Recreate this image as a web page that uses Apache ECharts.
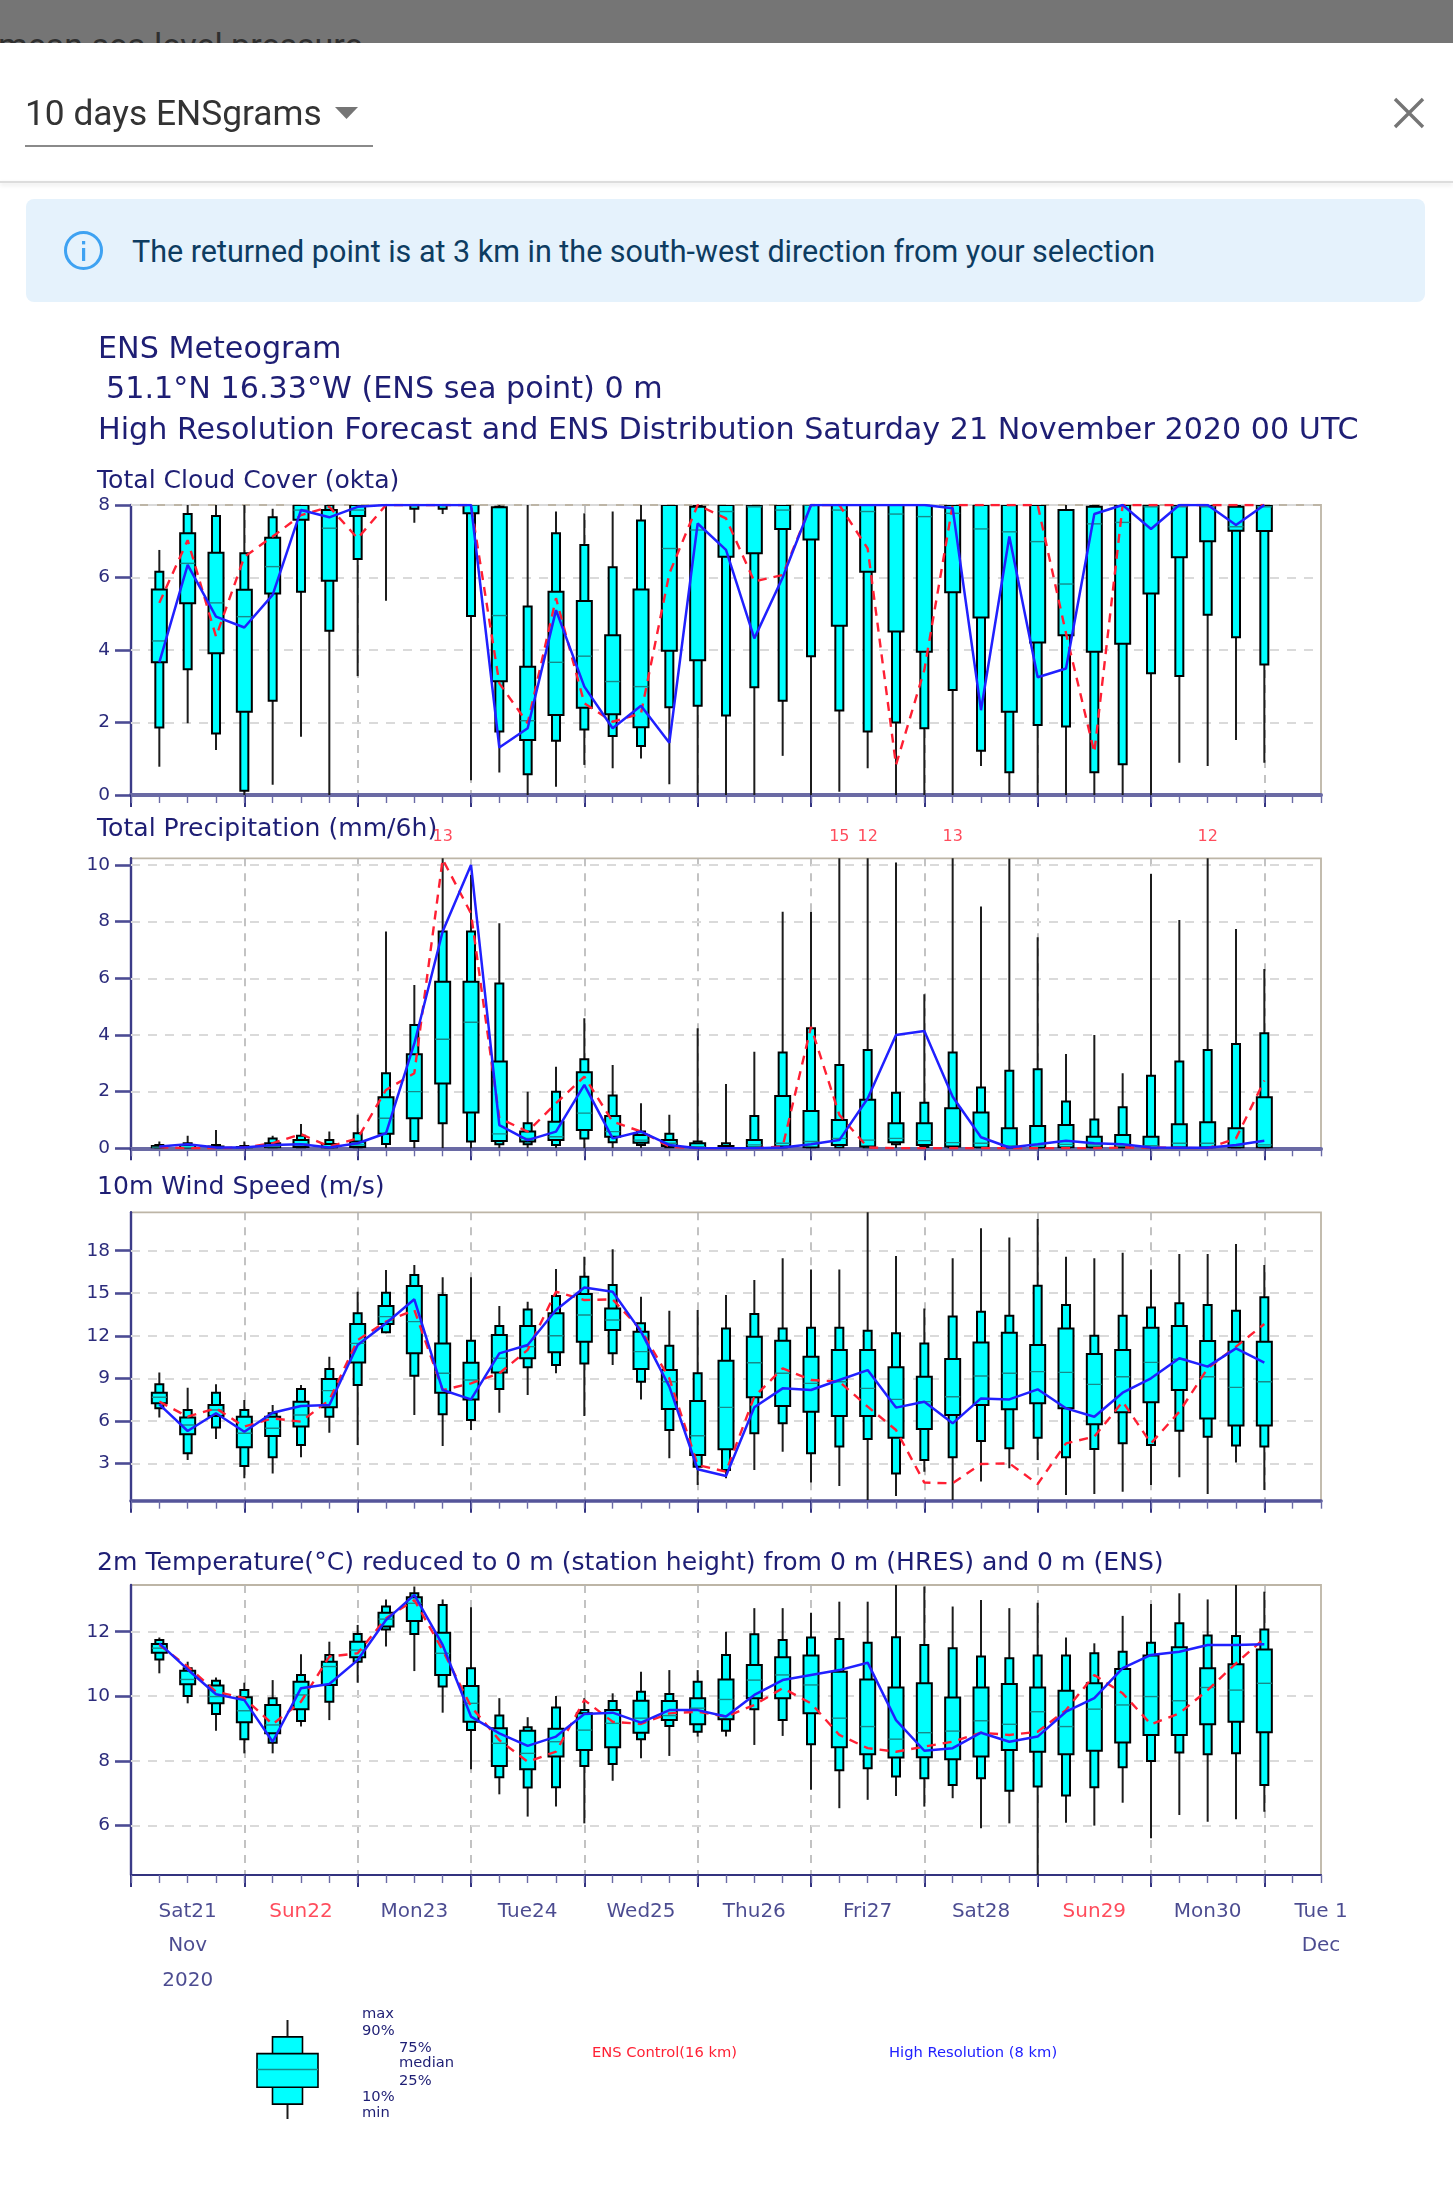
<!DOCTYPE html>
<html><head><meta charset="utf-8">
<script src="https://cdn.jsdelivr.net/npm/echarts@6/dist/echarts.min.js"></script>
<style>
html,body{margin:0;padding:0;background:#fff;width:1453px;height:2189px;overflow:hidden}
#head{position:absolute;left:0;top:0;width:1453px;height:310px;filter:blur(.6px);font-family:Roboto,sans-serif}
#head div,#head svg{position:absolute}
#bar{left:0;top:0;width:1453px;height:43px;background:#757575;overflow:hidden}
#barText{left:-2px;top:25px;font-size:34px;color:#2f2f2f;white-space:nowrap;line-height:40px}
#sel{left:25px;top:92px;font-size:35.3px;color:#333;white-space:nowrap;line-height:42px}
#under{left:25px;top:145px;width:348px;height:2px;background:#8a8a8a}
#rule{left:0;top:181px;width:1453px;height:2px;background:#ddd;box-shadow:0 2px 4px rgba(0,0,0,.12)}
#alert{left:26px;top:199px;width:1399px;height:103px;background:#e5f2fc;border-radius:8px}
#alertText{left:132px;top:231px;font-size:30.5px;color:#0d3c61;white-space:nowrap;line-height:42px}
#chart{position:absolute;left:0;top:0;width:1453px;height:2189px;filter:blur(.7px)}
</style></head>
<body>
<div id="head">
  <div id="bar"><div id="barText">mean sea level pressure</div></div>
  <div id="sel">10 days ENSgrams</div>
  <svg style="left:335px;top:107px" width="24" height="13"><path d="M0 0H23L11.5 12Z" fill="#757575"/></svg>
  <div id="under"></div>
  <svg style="left:1393px;top:97px" width="32" height="32"><path d="M2 2L30 30M30 2L2 30" stroke="#757575" stroke-width="3.4"/></svg>
  <div id="rule"></div>
  <div id="alert"></div>
  <svg style="left:63px;top:230px" width="42" height="42"><circle cx="20.5" cy="20.5" r="18" fill="none" stroke="#3ea2f2" stroke-width="3"/><rect x="19" y="18" width="3.2" height="13" fill="#3ea2f2"/><rect x="19" y="11" width="3.2" height="3.4" fill="#3ea2f2"/></svg>
  <div id="alertText">The returned point is at 3 km in the south-west direction from your selection</div>
</div>
<div id="chart"></div>
<script>
const hours=[6,12,18,24,30,36,42,48,54,60,66,72,78,84,90,96,102,108,114,120,126,132,138,144,150,156,162,168,174,180,186,192,198,204,210,216,222,228,234,240];

const cloudMax=[6.76,8,8,8,7.9,8,8,8,8,8,8,8,8,8,7.82,7.77,7.82,8,8,8,8,8,8,8,8,8,8,8,8,8,8,8,8,8,8,8,8,8,8,8];
const cloudP90=[6.16,7.75,7.7,6.67,7.66,8,8,8,8,8,8,8,7.95,5.2,7.22,6.9,6.28,7.57,8,8,8,8,8,8,8,8,8,8,8,8,8,8,7.86,8,8,8,8,8,8,8];
const cloudP75=[5.67,7.22,6.68,5.66,7.1,8,7.86,8,8,8,8,8,7.94,3.54,5.61,5.35,4.41,5.67,8,7.95,8,8,8,8,8,8,8,8,8,8,8,8,7.86,7.95,8,8,8,8,7.95,8];
const cloudMed=[4.25,6.39,5.3,4.92,6.3,7.86,7.36,7.86,8,8,8,8,4.95,2.05,3.66,3.83,3.13,2.99,6.8,7.31,7.82,7.95,7.86,8,7.86,7.82,7.75,7.68,7.77,7.34,7.26,6.99,5.82,7.48,7.52,7.95,7.95,7.95,7.4,7.95];
const cloudP25=[3.66,5.29,3.91,2.3,5.56,7.59,5.91,7.7,8,8,8,7.77,3.14,1.52,2.21,2.41,2.23,1.87,3.98,3.72,6.57,6.67,7.34,7.05,4.67,6.16,4.51,3.95,5.59,4.9,2.3,4.21,4.41,3.95,4.17,5.56,6.56,7,7.29,7.28];
const cloudP10=[1.86,3.47,1.7,0.12,2.6,5.61,4.53,6.51,8,7.9,7.9,4.94,1.75,0.57,1.5,1.81,1.63,1.35,2.42,2.46,2.19,2.97,2.6,3.83,2.33,1.75,2,1.84,2.9,1.22,0.63,1.93,1.89,0.63,0.85,3.36,3.28,4.97,4.35,3.6];
const cloudMin=[0.78,1.98,1.24,0,0.28,1.61,0,3.28,5.36,7.51,7.75,0.41,0.62,0,0.23,0.83,0.74,1.01,0.3,0,0,0,1.08,0,0.09,0.74,0,0,0,0.8,0,0,0,0,0,0,0.89,0.8,1.52,0.89];
const cloudHres=[3.66,6.35,4.92,4.62,5.52,7.86,7.66,7.95,8,8,8,8,1.31,1.84,5.1,2.99,1.84,2.46,1.44,7.49,6.76,4.32,6,8,8,8,8,8,7.91,2.34,7.13,3.25,3.49,7.75,8,7.34,8,8,7.45,8];
const cloudCtrl=[5.3,7.03,4.37,6.57,7.13,7.72,7.95,7.08,8,8,8,8,3.08,1.98,5.43,2.53,2.02,2.25,6.11,8,7.63,5.89,6.07,8,8,6.8,0.83,3.45,8,8,8,8,4.46,1.17,8,8,8,8,8,8];

const rainMax=[0.24,0.44,0.65,0.24,0.44,0.86,0.59,1.18,7.65,5.76,13,9.65,7.94,2,2.88,4.59,2.94,1.59,1.18,4.24,2.27,3.41,8.35,8.35,15,12,10.09,5.44,13,8.53,10.23,7.45,3.33,4,2.65,9.68,8.06,12,7.74,6.33];
const rainP90=[0.12,0.18,0.12,0.08,0.35,0.44,0.29,0.53,2.65,4.35,7.65,7.65,5.82,0.88,2,3.14,1.86,0.59,0.51,0.24,0.18,1.14,3.38,4.24,2.94,3.47,1.96,1.61,3.38,2.15,2.74,2.79,1.65,1.02,1.45,2.56,3.06,3.47,3.68,4.06];
const rainP75=[0.08,0.12,0.06,0.05,0.18,0.29,0.15,0.24,1.8,3.32,5.88,5.88,3.06,0.59,0.94,2.68,1.14,0.47,0.29,0.18,0.08,0.29,1.85,1.32,1,1.71,0.88,0.88,1.41,1.26,0.71,0.79,0.82,0.41,0.47,0.41,0.85,0.92,0.71,1.8];
const rainMed=[0.04,0.03,0.02,0.01,0.06,0.15,0.05,0.12,1.06,2,3.85,4.45,0.51,0.35,0.41,1.24,0.59,0.29,0.18,0.06,0.02,0.12,0.18,0.24,0.35,0.29,0.35,0.27,0.2,0.18,0.08,0.12,0.14,0.12,0.12,0.09,0.18,0.18,0.08,0.12];
const rainP25=[0,0,0,0,0.03,0.05,0.01,0.05,0.51,1.06,2.29,1.26,0.26,0.24,0.29,0.65,0.41,0.2,0.08,0.02,0,0.03,0.06,0.03,0.12,0.06,0.21,0.12,0.06,0.03,0.01,0.02,0.03,0.03,0.03,0.01,0.03,0.03,0.01,0.02];
const rainP10=[0,0,0,0,0,0.01,0,0.01,0.15,0.26,0.88,0.24,0.14,0.14,0.12,0.35,0.21,0.12,0.02,0,0,0,0,0,0.02,0,0.14,0.05,0,0,0,0,0,0,0,0,0,0,0,0];
const rainMin=[0,0,0,0,0,0,0,0,0,0,0,0,0,0,0,0,0,0,0,0,0,0,0,0,0,0,0,0,0,0,0,0,0,0,0,0,0,0,0,0];
const rainHres=[0.06,0.14,0.03,0.03,0.12,0.14,0.03,0.18,0.53,3.7,7.65,10,0.82,0.29,0.59,2.24,0.35,0.59,0.12,0,0,0,0.03,0.14,0.29,1.76,4,4.14,1.82,0.39,0.03,0.14,0.27,0.18,0.14,0.03,0.02,0.02,0.12,0.27];
const rainCtrl=[0.04,0,0,0.03,0.18,0.5,0.06,0.35,2.06,2.65,10.2,8.29,1.06,0.59,1.59,2.53,0.94,0.59,0.06,0,0,0,0.06,4.29,1.18,0.03,0,0,0,0,0,0,0,0,0.03,0.03,0.02,0,0.35,2.39];

const windMax=[9.4,8.34,8.57,7.47,7.11,8.53,10.52,15.1,16.64,17,16.12,16.12,14.1,14.4,16.71,17.58,18.1,14.76,13.77,13.82,14.87,15.93,17.46,16.68,16.68,21,17.62,13.93,17.46,19.58,18.94,20.23,17.58,17.46,17.86,16.68,17.77,17.77,18.47,17];
const windP90=[8.57,6.76,7.98,6.76,6.53,8.24,9.65,13.58,15.04,16.28,14.87,11.65,12.69,13.86,14.8,16.17,15.58,12.88,11.3,9.35,12.52,13.53,12.52,12.57,12.57,12.36,12.17,11.46,13.35,13.7,13.42,15.53,14.17,12,13.42,14,14.29,14.17,13.77,14.71];
const windP75=[7.98,6.24,7.11,6.29,6.29,7.35,8.95,12.83,14.1,15.51,11.46,10.1,12.05,12.69,13.58,14.94,13.93,12.29,9.58,7.4,10.24,11.93,11.65,10.52,10.99,10.99,9.77,9.11,10.36,11.53,12.22,11.35,12.52,10.71,10.99,12.57,12.69,11.63,11.58,11.58];
const windMed=[7.66,5.7,6.76,5.12,5.47,6.41,8.13,11.46,13.35,13,9.35,8.88,10.41,11.23,12,13.46,13.11,10.88,8.76,4.95,6.95,10.1,9.35,8.64,8.76,8.29,7.51,7.35,7.7,9.16,9.35,9.47,9.42,8.57,9.11,10.12,10.34,9.11,8.36,8.76];
const windP25=[7.23,5.05,6.34,4.13,4.93,5.59,6.95,10.12,12.83,10.76,7.98,7.51,9.4,10.41,10.83,11.58,12.41,9.65,6.83,3.59,3.99,7.66,7.04,6.64,6.34,6.34,4.81,5.42,6.41,7.11,6.81,7.23,6.88,5.75,6.6,7.3,8.17,6.17,5.66,5.66];
const windP10=[6.88,3.71,5.52,2.81,3.42,4.29,6.29,8.53,12.24,9.18,6.46,6.06,8.24,9.77,9.94,10.05,10.76,8.76,5.35,2.76,2.53,5.12,5.82,3.71,4.18,4.72,2.29,3.24,3.42,4.58,4.06,4.81,3.42,4.01,4.41,4.29,5.3,4.88,4.25,4.18];
const windMin=[6.24,3.24,4.72,1.94,2.29,3.42,5.16,4.29,12.17,6.41,4.22,5.35,6.57,7.82,9.35,6.34,9.94,7.51,3.35,1.47,1.94,2.53,3.82,1.64,1.4,0.41,0.7,2.41,0.41,1.71,2.65,3.24,0.77,0.84,1,1.47,2.01,0.84,3.05,1.12];
const windHres=[7.16,5.28,6.53,5.23,6.57,7.04,7.11,11.35,12.88,14.57,8.17,7.51,10.76,11.35,13.82,15.41,15.11,12.29,8.41,2.58,2.11,6.95,8.29,8.17,8.88,9.58,6.93,7.35,5.82,7.58,7.51,8.22,6.88,6.29,7.98,9,10.41,9.82,11.11,10.1];
const windCtrl=[7.35,6.29,6.88,5.59,6.17,5.94,7.47,11.7,13,13.82,8.17,8.64,9.35,11,15.11,14.52,14.57,12.41,9,2.88,2.41,7.7,9.7,8.88,8.76,7,5.35,1.64,1.59,2.95,3,1.54,4.41,4.88,7.35,4.41,6.64,9.7,11.23,12.83];

const tempMax=[11.82,11.07,10.58,10.42,10.5,11.3,11.69,12.21,13,13.4,13,12.76,9.94,9.35,10.01,9.94,10.09,10.76,10.81,10.81,12,12.73,12.73,12.59,12.93,12.93,13.6,13.4,12.78,12.98,12.73,12.9,11.82,11.64,12.49,12.86,13.19,13,13.5,13.24];
const tempP90=[11.74,10.87,10.48,10.19,9.94,10.66,11.28,11.93,12.78,13.19,12.83,10.87,9.4,9.04,9.65,9.57,9.85,10.14,10.07,10.45,11.28,11.92,11.74,11.82,11.77,11.66,11.83,11.59,11.49,11.23,11.18,11.26,11.26,11.33,11.38,11.66,12.26,11.88,11.87,12.07];
const tempP75=[11.62,10.79,10.33,9.97,9.73,10.45,11.07,11.69,12.59,13.07,11.97,10.32,9.01,8.93,8.99,9.47,9.57,9.86,9.85,9.94,10.52,10.97,11.21,11.26,10.76,10.52,10.27,10.4,9.96,10.27,10.38,10.27,10.17,10.4,10.84,11.26,11.52,10.87,10.99,11.45];
const tempMed=[11.49,10.52,9.99,9.55,9.11,10.04,10.92,11.43,12.39,12.88,11.33,9.78,8.54,8.23,8.59,8.95,9.16,9.32,9.4,9.63,9.9,10.5,10.66,10.35,9.32,9.06,8.67,8.87,8.92,9.24,9.13,9.52,9.06,9.6,9.73,9.99,9.86,10.27,10.19,10.4];
const tempP25=[11.35,10.37,9.78,9.19,8.85,9.6,10.35,11.21,12.16,12.33,10.66,9.21,7.84,7.74,8.13,8.33,8.42,8.87,9.26,9.13,9.29,9.94,9.94,9.47,8.42,8.2,8.1,8.11,8.05,8.13,8.33,8.28,8.2,8.31,8.57,8.8,8.8,9.13,9.21,8.88];
const tempP10=[11.14,10.01,9.45,8.67,8.56,9.23,9.83,11.07,12.07,11.93,10.3,8.95,7.49,7.17,7.18,7.84,7.9,8.67,9.08,8.9,8.93,9.6,9.26,8.51,7.71,7.77,7.51,7.46,7.25,7.46,7.07,7.2,6.92,7.18,7.8,7.99,8.26,8.2,8.23,7.25];
const tempMin=[10.71,9.78,8.93,8.23,8.23,9.06,9.26,10.42,11.54,10.78,9.49,7.74,6.96,6.27,6.58,6.06,7.38,8.08,8.15,8.75,8.75,8.49,8.77,7.1,6.53,6.79,6.91,6.58,6.84,5.91,6.06,4.4,6.08,5.99,6.7,5.6,6.32,6.11,6.19,6.42];
const tempHres=[11.64,10.83,10.06,9.88,8.59,10.25,10.38,11.12,12.36,13.14,11.59,9.37,8.85,8.46,8.75,9.45,9.49,9.18,9.57,9.57,9.37,10.04,10.5,10.66,10.81,11.04,9.26,8.31,8.39,8.87,8.59,8.75,9.52,9.94,10.87,11.28,11.38,11.59,11.59,11.61];
const tempCtrl=[11.59,10.92,10.14,9.94,9.13,9.83,11.23,11.33,12.42,12.98,11.43,9.68,8.64,7.97,8.28,9.88,9.21,9.14,9.47,9.52,9.37,9.73,10.25,9.78,8.8,8.39,8.28,8.44,8.59,8.87,8.8,8.9,9.57,10.66,10.09,9.13,9.47,10.19,11.02,11.79];

const dayHours=[12,36,60,84,108,132,156,180,204,228,252];
const dayLabels=['Sat21\nNov\n2020','Sun22','Mon23','Tue24','Wed25','Thu26','Fri27','Sat28','Sun29','Mon30','Tue 1\nDec'];
const dayColors=['#1e1e74','#ff1f33','#1e1e74','#1e1e74','#1e1e74','#1e1e74','#1e1e74','#1e1e74','#ff1f33','#1e1e74','#1e1e74'];
const dayEdges=[0,24,48,72,96,120,144,168,192,216,240];
const sixHourly=[0,6,12,18,24,30,36,42,48,54,60,66,72,78,84,90,96,102,108,114,120,126,132,138,144,150,156,162,168,174,180,186,192,198,204,210,216,222,228,234,240,246,252];

const cloudTicks=[0,2,4,6,8];
const rainTicks=[0,2,4,6,8,10];
const windTicks=[3,6,9,12,15,18];
const tempTicks=[6,8,10,12];

const legendStats=[0,15,32,50,66,83,100];

const NAVY='#1e1e74', CYAN='#00ffff', EDGE='#000000';

function boxRender(wide,narrow,lw){
  return function(params,api){
    const x=api.value(0);
    const y=i=>api.coord([x,api.value(i)]);
    const px=y(1)[0];
    const pMin=y(1)[1],p10=y(2)[1],p25=y(3)[1],med=y(4)[1],p75=y(5)[1],p90=y(6)[1],pMax=y(7)[1];
    const rect=(w,a,b,z)=>({type:'rect',z2:z,shape:{x:px-w/2,y:b,width:w,height:Math.max(a-b,0)},
      style:{fill:CYAN,stroke:EDGE,lineWidth:lw}});
    return {type:'group',children:[
      {type:'line',z2:1,shape:{x1:px,y1:pMin,x2:px,y2:pMax},style:{stroke:'#1c1c1c',lineWidth:2}},
      rect(narrow,p10,p90,2),
      rect(wide,p25,p75,3),
      {type:'line',z2:4,shape:{x1:px-wide/2,y1:med,x2:px+wide/2,y2:med},style:{stroke:'#178a8a',lineWidth:1.4}}
    ]};
  };
}

const panels=[
 {top:505,bottom:795,min:0,max:8,ticks:cloudTicks,a:[cloudMin,cloudP10,cloudP25,cloudMed,cloudP75,cloudP90,cloudMax],hres:cloudHres,ctrl:cloudCtrl,axisW:4,axisC:'#6a6aa4'},
 {top:858.3,bottom:1148.3,min:0,max:10.235,ticks:rainTicks,a:[rainMin,rainP10,rainP25,rainMed,rainP75,rainP90,rainMax],hres:rainHres,ctrl:rainCtrl,axisW:4,axisC:'#6a6aa4',flags:true},
 {top:1212.3,bottom:1500.7,min:0.363,max:20.71,ticks:windTicks,a:[windMin,windP10,windP25,windMed,windP75,windP90,windMax],hres:windHres,ctrl:windCtrl,axisW:3.6,axisC:'#55559a'},
 {top:1585,bottom:1875,min:4.46,max:13.447,ticks:tempTicks,a:[tempMin,tempP10,tempP25,tempMed,tempP75,tempP90,tempMax],hres:tempHres,ctrl:tempCtrl,axisW:2.2,axisC:'#33337f',labels:true}
];

const grid=[],xAxis=[],yAxis=[],series=[];
panels.forEach((p,k)=>{
  grid.push({left:131,width:1190,top:p.top,height:p.bottom-p.top,show:true,backgroundColor:'transparent',borderColor:'#bdb5a6',borderWidth:1.8});
  const xi=xAxis.length;
  xAxis.push({type:'value',gridIndex:k,min:0,max:252,interval:24,position:'bottom',
    axisLine:{show:true,lineStyle:{color:p.axisC,width:p.axisW}},
    axisTick:{show:true,customValues:dayEdges,length:12,lineStyle:{color:NAVY,width:1.8}},
    splitLine:{show:true,lineStyle:{color:'#b4b4b4',type:[8,7],width:1.6}},
    axisLabel:{show:false}});
  xAxis.push({type:'value',gridIndex:k,min:0,max:252,interval:6,position:'bottom',
    axisLine:{show:false},axisLabel:{show:false},splitLine:{show:false},
    axisTick:{show:true,customValues:sixHourly,length:8,lineStyle:{color:'#6a6aa6',width:1.4}}});
  yAxis.push({type:'value',gridIndex:k,min:p.min,max:p.max,
    axisLine:{show:true,lineStyle:{color:'#3c3c88',width:2.4}},
    axisTick:{show:true,customValues:p.ticks,length:16,lineStyle:{color:'#4c4c94',width:2.6}},
    splitLine:{show:false},
    axisLabel:{show:true,customValues:p.ticks,margin:21,fontFamily:'DejaVu Sans',fontSize:18.5,color:'#2c2c7c'}});
  const rows=hours.map((h,i)=>[h].concat(p.a.map(arr=>arr[i])));
  series.push({type:'custom',name:'ENS '+k,xAxisIndex:xi,yAxisIndex:k,z:3,clip:true,silent:true,
    data:rows,encode:{x:0,y:[1,2,3,4,5,6,7]},renderItem:boxRender(15,8,2)});
  series.push({type:'line',name:'levels '+k,xAxisIndex:xi,yAxisIndex:k,z:1,data:[],silent:true,
    markLine:{silent:true,symbol:'none',z:1,animation:false,label:{show:false},
      lineStyle:{color:'#dadada',type:[9,8],width:1.8},data:p.ticks.filter(v=>v!==p.min).map(v=>({yAxis:v}))}});
  series.push({type:'line',name:'ENS Control',xAxisIndex:xi,yAxisIndex:k,z:5,symbol:'none',clip:true,silent:true,
    data:hours.map((h,i)=>[h,p.ctrl[i]]),lineStyle:{color:'#ff1f33',width:2.4,type:[9,7]}});
  series.push({type:'line',name:'High Resolution',xAxisIndex:xi,yAxisIndex:k,z:6,symbol:'none',clip:true,silent:true,
    data:hours.map((h,i)=>[h,p.hres[i]]),lineStyle:{color:'#2020ff',width:2.5}});
  if(p.flags){
    const maxArr=p.a[6];
    series.push({type:'scatter',name:'off-scale maxima',xAxisIndex:xi,yAxisIndex:k,z:7,symbolSize:1,clip:false,silent:true,
      itemStyle:{color:'rgba(0,0,0,0)'},
      data:hours.map((h,i)=>[h,p.max,maxArr[i]]).filter(d=>d[2]>p.max),
      label:{show:true,position:'top',distance:13,formatter:o=>String(o.data[2]),color:'#ff1f33',fontFamily:'DejaVu Sans',fontSize:16}});
  }
  if(p.labels){
    series.push({type:'scatter',name:'date labels',xAxisIndex:xi,yAxisIndex:k,z:7,symbolSize:1,clip:false,silent:true,
      itemStyle:{color:'rgba(0,0,0,0)'},
      data:dayHours.map((h,i)=>({value:[h,p.min],name:dayLabels[i],
        label:{show:true,position:'bottom',distance:19,formatter:dayLabels[i],color:dayColors[i],fontFamily:'DejaVu Sans',fontSize:20,lineHeight:34.5,align:'center',verticalAlign:'top'}}))});
  }
});

const lg=grid.length;
grid.push({left:257,width:61,top:2020,height:99,show:false});
xAxis.push({type:'value',gridIndex:lg,min:0,max:1,show:false});
yAxis.push({type:'value',gridIndex:lg,min:0,max:100,show:false});
series.push({type:'custom',name:'legend box',xAxisIndex:xAxis.length-1,yAxisIndex:lg,z:3,silent:true,
  data:[[0.5].concat(legendStats)],encode:{x:0,y:[1,2,3,4,5,6,7]},renderItem:boxRender(61,30,1.6)});

const T=(text,x,y,size,fill)=>({type:'text',x:x,y:y,silent:true,
  style:{text:text,fill:fill||NAVY,fontFamily:'DejaVu Sans',fontSize:size,verticalAlign:'middle',align:'left'}});
const texts=[
 T('ENS Meteogram',98,350,30.2),
 T('51.1°N 16.33°W (ENS sea point) 0 m',106,390,30.2),
 T('High Resolution Forecast and ENS Distribution Saturday 21 November 2020 00 UTC',98,431,30.2),
 T('Total Cloud Cover (okta)',97,481,25.1),
 T('Total Precipitation (mm/6h)',97,829,25.1),
 T('10m Wind Speed (m/s)',97,1187,25.1),
 T('2m Temperature(°C) reduced to 0 m (station height) from 0 m (HRES) and 0 m (ENS)',97,1563,25.1),
 T('max',362,2014,14.7),T('90%',362,2031,14.7),T('75%',399,2048,14.7),T('median',399,2063,14.7),T('25%',399,2081,14.7),T('10%',362,2097,14.7),T('min',362,2113,14.7),
 T('ENS Control(16 km)',592,2053,14.7,'#ff1f33'),
 T('High Resolution (8 km)',889,2053,14.7,'#2020ff')
];

const chart=echarts.init(document.getElementById('chart'));
chart.setOption({animation:false,backgroundColor:'transparent',tooltip:{show:false},grid,xAxis,yAxis,series,graphic:{elements:texts}});
</script>
</body></html>
